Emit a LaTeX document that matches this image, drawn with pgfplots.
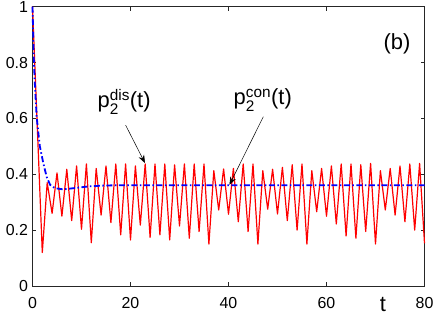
\documentclass[border=0pt]{standalone}
\usepackage{fontspec}
\setmainfont{Liberation Sans}
\usepackage{amsmath}
\usepackage{pgfplots}
\pgfplotsset{compat=1.18}
\usetikzlibrary{arrows.meta}

\pgfplotstableread{
t v
0 1.0
1 0.56
2 0.12
3 0.37
4 0.26
5 0.405
6 0.25
7 0.418
8 0.234
9 0.43
10 0.203
11 0.437
12 0.155
13 0.421
14 0.254
15 0.43
16 0.227
17 0.437
18 0.183
19 0.437
20 0.165
21 0.43
22 0.218
23 0.437
24 0.174
25 0.437
26 0.183
27 0.437
28 0.165
29 0.434
30 0.215
31 0.437
32 0.171
33 0.437
34 0.195
35 0.437
36 0.15
37 0.413
38 0.272
39 0.419
40 0.257
41 0.421
42 0.23
43 0.437
44 0.195
45 0.437
46 0.15
47 0.413
48 0.275
49 0.418
50 0.258
51 0.425
52 0.234
53 0.434
54 0.2
55 0.437
56 0.15
57 0.413
58 0.266
59 0.421
60 0.25
61 0.43
62 0.222
63 0.437
64 0.179
65 0.437
66 0.171
67 0.434
68 0.195
69 0.439
70 0.15
71 0.413
72 0.272
73 0.421
74 0.254
75 0.43
76 0.23
77 0.437
78 0.2
79 0.439
80 0.153
}\disdata

\pgfplotstableread{
t v
0 1.0
0.1 0.93
0.25 0.82
0.5 0.715
0.85 0.606
1.2 0.547
1.5 0.5
2.2 0.44
2.9 0.39
3.6 0.362
4.6 0.35
6.3 0.346
8.3 0.35
11.7 0.357
15 0.36
20 0.361
80 0.361
}\condata

\begin{document}
\begin{tikzpicture}
\begin{axis}[
  scale only axis,
  width=392bp, height=279.3bp,
  xmin=0, xmax=80, ymin=0, ymax=1,
  xtick={0,20,40,60,80},
  ytick={0,0.2,0.4,0.6,0.8,1},
  yticklabels={0,0.2,0.4,0.6,0.8,1},
  /pgf/number format/assume math mode=true,
  tick label style={font=\fontsize{16}{16}\selectfont},
  xticklabel style={yshift=-8bp},
  yticklabel style={xshift=-1bp},
  axis line style={draw=black!85, line width=0.8bp},
  major tick style={draw=black!85, line width=0.8bp},
  major tick length=4bp,
  tick align=inside,
  clip=false,
]
\addplot[red, line width=1.2bp, line join=round] table[x=t,y=v] {\disdata};
\addplot[blue, line width=1.8bp, dash pattern=on 6bp off 2.5bp on 1.5bp off 2.5bp] table[x=t,y=v] {\condata};

\draw[black, line width=0.5bp, -{Stealth[length=8bp,width=6bp]}] (axis cs:19.0,0.576) -- (axis cs:22.96,0.44);
\draw[black, line width=0.5bp, -{Stealth[length=8bp,width=6bp]}] (axis cs:47.1,0.606) -- (axis cs:40.2,0.362);

\node[font=\fontsize{22}{22}\selectfont, inner sep=0pt] at (axis cs:18.7,0.66) {$\text{p}_{\text{2}}^{\text{dis}}\text{(t)}$};
\node[font=\fontsize{22}{22}\selectfont, inner sep=0pt] at (axis cs:47.0,0.665) {$\text{p}_{\text{2}}^{\text{con}}\text{(t)}$};
\node[font=\fontsize{22}{22}\selectfont, inner sep=0pt] at (axis cs:74.4,0.866) {(b)};
\node[font=\fontsize{22}{22}\selectfont, inner sep=0pt, anchor=base] at ([yshift=-25bp]axis cs:71.5,0) {t};
\end{axis}
\pgfresetboundingbox
\path[use as bounding box] ([xshift=-32.5bp,yshift=-30bp]current axis.south west) rectangle ([xshift=11.5bp,yshift=6.7bp]current axis.north east);
\end{tikzpicture}
\end{document}
